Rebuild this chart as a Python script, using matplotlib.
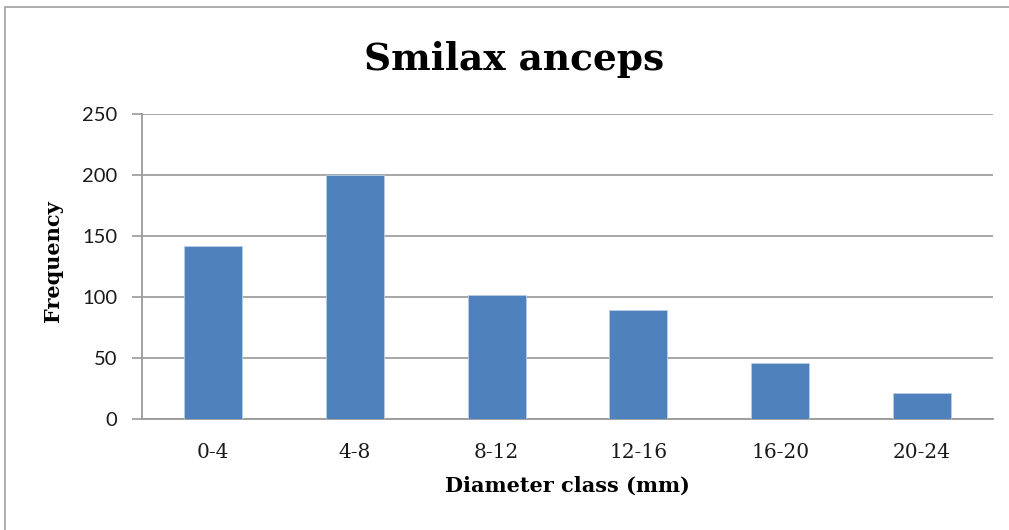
import matplotlib
matplotlib.use("Agg")
import matplotlib.pyplot as plt
from matplotlib.patches import Rectangle

categories = ["0-4", "4-8", "8-12", "12-16", "16-20", "20-24"]
frequency = [142, 200, 102, 89, 46, 21]
yticks = [0, 50, 100, 150, 200, 250]

SERIF = "DejaVu Serif"

fig = plt.figure(figsize=(10.09, 5.30), dpi=100)
ax = fig.add_axes([142/1009, 111/530, 851/1009, 305/530])

x = range(len(categories))
ax.bar(x, frequency, width=0.41, color="#4F81BD", edgecolor="#B9CDE5", linewidth=0.6, zorder=3)

ax.set_xlim(-0.5, len(categories) - 0.5)
ax.set_ylim(0, 250)
ax.set_yticks(yticks)
ax.set_xticks(list(x))
ax.set_xticklabels(categories, family=SERIF, fontsize=14.5, color="#1a1a1a")
for lab in ax.get_yticklabels():
    lab.set_family("Lato")
    lab.set_fontsize(14.5)
    lab.set_color("#1a1a1a")
ax.tick_params(axis="y", length=7, color="#9A9A9A", width=1.2, pad=11)
ax.tick_params(axis="x", length=0, pad=17)
ax.grid(axis="y", color="#A0A0A0", linewidth=1.3, zorder=0)
for s in ["top", "right"]:
    ax.spines[s].set_visible(False)
ax.spines["left"].set_color("#9A9A9A")
ax.spines["left"].set_linewidth(1.3)
ax.spines["bottom"].set_color("#9A9A9A")
ax.spines["bottom"].set_linewidth(1.3)

ax.set_xlabel("Diameter class (mm)", family=SERIF, fontweight="bold", fontsize=15, labelpad=10)
ax.set_ylabel("Frequency", family=SERIF, fontweight="bold", fontsize=15)
ax.yaxis.set_label_coords(-0.093, 0.518)

fig.text(514/1009, 1 - 70/530, "Smilax anceps", family=SERIF, fontweight="bold",
         fontsize=27, ha="center", va="baseline")

fig.patches.append(Rectangle((5/1009, -0.05), 1.1, 1 - 7/530 + 0.05, transform=fig.transFigure,
                             fill=False, edgecolor="#A0A0A0", linewidth=1.2))

fig.savefig("out.png", dpi=100)
